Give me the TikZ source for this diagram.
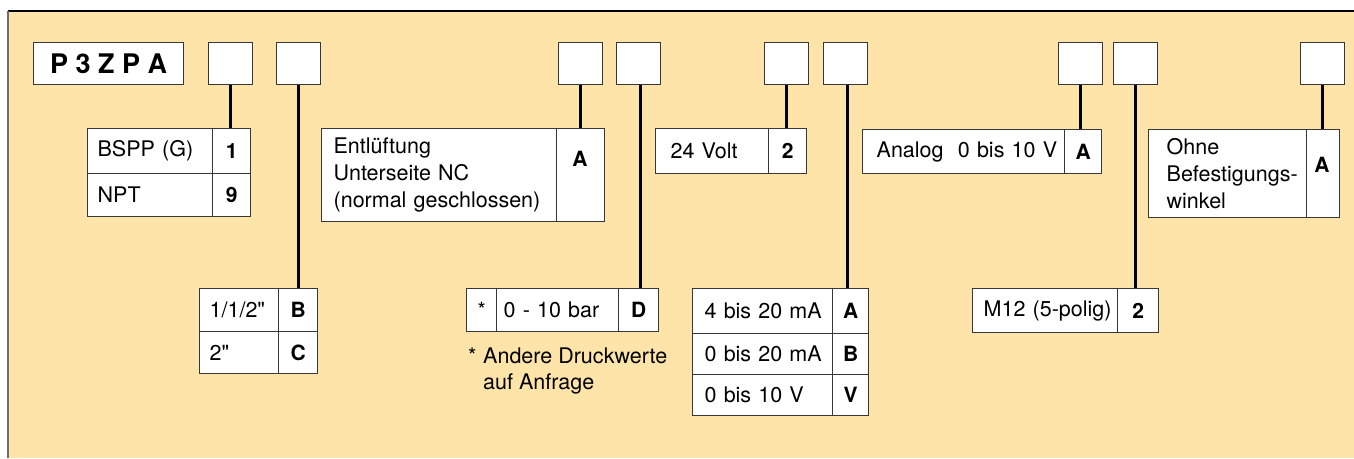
\documentclass[tikz,border=0pt]{standalone}
\usepackage{fontspec}
\setmainfont{TeX Gyre Heros}
\definecolor{bgfill}{RGB}{254,228,168}
\definecolor{boxline}{RGB}{55,55,55}
\definecolor{leftline}{RGB}{110,110,110}
\newcommand\inchmark{\XeTeXglyph\XeTeXcharglyph"22\relax}
\begin{document}
\begin{tikzpicture}[x=1pt,y=-1pt,
  txt/.style={font=\fontsize{21.5}{27}\selectfont},
  cell/.style={draw=boxline, fill=white, line width=1.3pt, anchor=north west,
    inner xsep=10pt, inner ysep=0pt, align=left, txt},
  code/.style={draw=boxline, fill=white, line width=1.3pt, anchor=north west,
    inner sep=0pt, font=\fontsize{21}{24}\selectfont\bfseries},
  plaincode/.style={code, font=\fontsize{21}{24}\selectfont},
  sel/.style={draw=boxline, fill=white, line width=1.3pt, anchor=north west,
    minimum width=44pt, minimum height=42pt, inner sep=0pt},
  conn/.style={line width=3pt, black},
  lbl/.style={inner sep=0pt, font=\fontsize{21}{24}\selectfont\bfseries}]
\useasboundingbox (0,0) rectangle (1354,458);
% background panel
\fill[bgfill] (8,11) rectangle (1354,458);
\draw[black, line width=1.2pt] (8,11) -- (1354,11);
\draw[leftline, line width=2pt] (8,11) -- (8,458);

% selector row
\node[sel, minimum width=150pt, font=\fontsize{27}{30}\selectfont\bfseries] (b0) at (33,42) {P 3 Z P A};
\node[sel] (b1) at (208,42) {};
\node[sel] (b2) at (276,42) {};
\node[sel] (b3) at (558,42) {};
\node[sel] (b4) at (616,42) {};
\node[sel] (b5) at (764,42) {};
\node[sel] (b6) at (823,42) {};
\node[sel] (b7) at (1058,42) {};
\node[sel] (b8) at (1113,42) {};
\node[sel] (b9) at (1300,42) {};

% table 1: thread
\node[cell, text width=105pt, minimum height=45pt] (t1a) at (87,128) {\mbox{BSPP (G)}};
\node[code, minimum width=38pt, minimum height=45pt] (t1b) at (212,128) {1};
\node[cell, text width=105pt, minimum height=43pt] (t1c) at (87,173) {NPT};
\node[code, minimum width=38pt, minimum height=43pt] (t1d) at (212,173) {9};

% table 2: size
\node[cell, text width=59pt, minimum height=43pt] (t2a) at (199,288) {1/1/2\inchmark};
\node[code, minimum width=39pt, minimum height=43pt] (t2b) at (278,288) {B};
\node[cell, text width=59pt, minimum height=42pt] (t2c) at (199,331) {2\inchmark};
\node[code, minimum width=39pt, minimum height=42pt] (t2d) at (278,331) {C};

% Entlueftung
\node[cell, inner xsep=12pt, text width=211pt, minimum height=93pt] (ent) at (321,128)
  {Entlüftung\\\mbox{Unterseite NC}\\\mbox{(normal geschlossen)}};
\node[code, minimum width=48pt, minimum height=93pt] (entc) at (556,128) {};
\node[lbl] (entl) at (580,159) {A};

% pressure
\node[plaincode, minimum width=30pt, minimum height=43pt] (pra) at (466,288) {*};
\node[cell, inner xsep=7pt, text width=108pt, minimum height=43pt] (prb) at (496,288) {\mbox{0 - 10 bar}};
\node[code, minimum width=40pt, minimum height=43pt] (prc) at (618,288) {D};
\node[txt, inner sep=0pt, anchor=base west] (fn1) at (468,363) {*};
\node[txt, inner sep=0pt, anchor=base west] (fn2) at (483,363) {Andere Druckwerte};
\node[txt, inner sep=0pt, anchor=base west] (fn3) at (483,389) {auf Anfrage};

% voltage
\node[cell, inner xsep=15pt, text width=83pt, minimum height=45pt] (va) at (655,128) {\mbox{24 Volt}};
\node[code, minimum width=38pt, minimum height=45pt] (vb) at (768,128) {2};

% table 3: signal
\node[cell, inner xsep=12pt, text width=116pt, minimum height=45pt] (t3a) at (692,288) {\mbox{4 bis 20 mA}};
\node[code, minimum width=36pt, minimum height=45pt] (t3b) at (832,288) {A};
\node[cell, inner xsep=12pt, text width=116pt, minimum height=41pt] (t3c) at (692,333) {\mbox{0 bis 20 mA}};
\node[code, minimum width=36pt, minimum height=41pt] (t3d) at (832,333) {B};
\node[cell, inner xsep=12pt, text width=116pt, minimum height=41pt] (t3e) at (692,374) {\mbox{0 bis 10 V}};
\node[code, minimum width=36pt, minimum height=41pt] (t3f) at (832,374) {V};

% analog
\node[cell, inner xsep=14pt, text width=174pt, minimum height=44pt] (ana) at (862,129) {\mbox{Analog\ \ 0 bis 10 V}};
\node[code, minimum width=37pt, minimum height=44pt] (anb) at (1064,129) {A};

% connector
\node[cell, inner xsep=11pt, text width=123pt, minimum height=44pt] (ma) at (972,288) {\mbox{M12 (5-polig)}};
\node[code, minimum width=41pt, minimum height=44pt] (mb) at (1117,288) {2};

% mounting
\node[cell, inner xsep=18pt, text width=122pt, minimum height=88pt] (oa) at (1148,129)
  {Ohne\\\mbox{Befestigungs-}\\winkel};
\node[code, minimum width=33pt, minimum height=88pt] (ob) at (1306,129) {};
\node[lbl] (ol) at (1322,165) {A};

% connectors
\draw[conn] (b1.south) -- (b1.south |- t1a.north);
\draw[conn] (b2.south) -- (b2.south |- t2a.north);
\draw[conn] (b3.south) -- (b3.south |- ent.north);
\draw[conn] ([xshift=1.5pt]b4.south) -- ([xshift=1.5pt]b4.south |- prb.north);
\draw[conn] (b5.south) -- (b5.south |- va.north);
\draw[conn] ([xshift=2pt]b6.south) -- ([xshift=2pt]b6.south |- t3a.north);
\draw[conn] (b7.south) -- (b7.south |- ana.north);
\draw[conn] (b8.south) -- (b8.south |- ma.north);
\draw[conn] (b9.south) -- (b9.south |- oa.north);
\end{tikzpicture}
\end{document}
